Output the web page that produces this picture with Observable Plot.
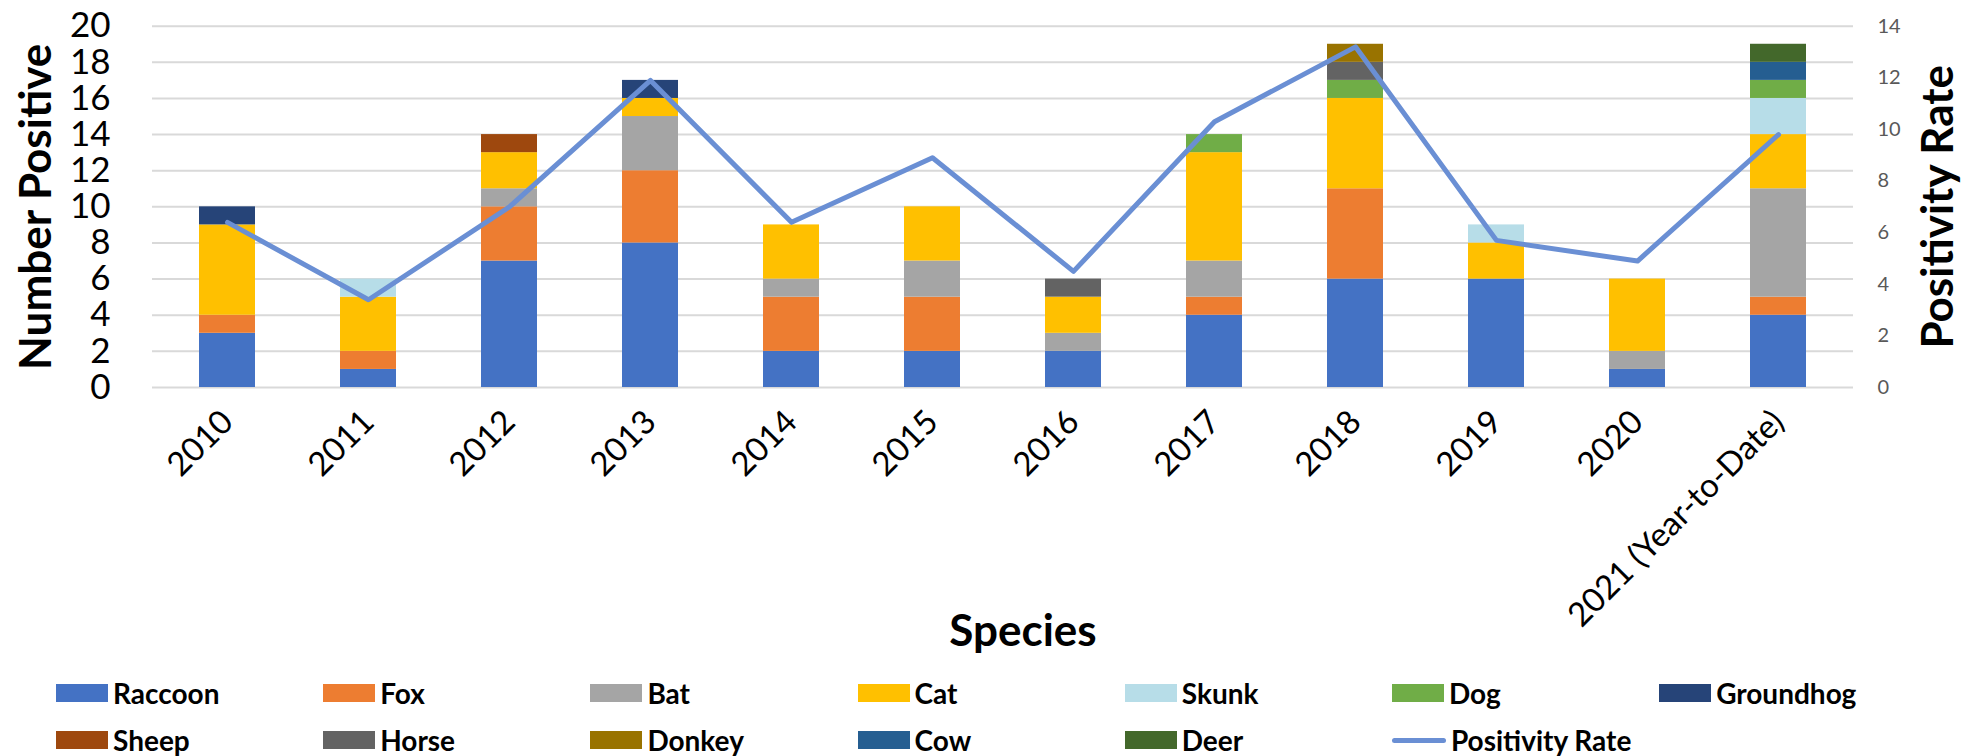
<!DOCTYPE html>
<html>
<head>
<meta charset="utf-8">
<script src="https://cdn.jsdelivr.net/npm/d3@7"></script>
<script src="https://cdn.jsdelivr.net/npm/@observablehq/plot@0.6"></script>
<style>
  body { margin: 0; background: #fff; font-family: Lato, "Open Sans", sans-serif; }
  #chart svg { display: block; }
  #legend {
    width: 1977px; height: 91px; box-sizing: border-box;
    display: grid; grid-template-columns: repeat(7, 267.2px); grid-auto-rows: 47px;
    padding-left: 56px; padding-top: 4.5px;
  }
  .item { display: flex; align-items: center; font-weight: 700; font-size: 28px; line-height: 1; color: #000; white-space: nowrap; }
  .sw { width: 52px; height: 18px; margin-right: 5px; flex: none; }
  .ln { width: 54px; height: 5px; border-radius: 3px; margin-right: 5px; flex: none; }
</style>
</head>
<body>
<div id="chart"></div>
<div id="legend"></div>
<script>
// Categories
const years = ["2010", "2011", "2012", "2013", "2014", "2015", "2016", "2017", "2018", "2019", "2020", "2021 (Year-to-Date)"];
const species = ["Raccoon", "Fox", "Bat", "Cat", "Skunk", "Dog", "Groundhog", "Sheep", "Horse", "Donkey", "Cow", "Deer"];
const speciesColors = ["#4472C4", "#ED7D31", "#A5A5A5", "#FFC000", "#B7DDE8", "#70AD47", "#264478", "#9E480E", "#636363", "#997300", "#255E91", "#43682B"];

// Positive animals per species and year
const raccoon   = [3, 1, 7, 8, 2, 2, 2, 4, 6, 6, 1, 4];
const fox       = [1, 1, 3, 4, 3, 3, 0, 1, 5, 0, 0, 1];
const bat       = [0, 0, 1, 3, 1, 2, 1, 2, 0, 0, 1, 6];
const cat       = [5, 3, 2, 1, 3, 3, 2, 6, 5, 2, 4, 3];
const skunk     = [0, 1, 0, 0, 0, 0, 0, 0, 0, 1, 0, 2];
const dog       = [0, 0, 0, 0, 0, 0, 0, 1, 1, 0, 0, 1];
const groundhog = [1, 0, 0, 1, 0, 0, 0, 0, 0, 0, 0, 0];
const sheep     = [0, 0, 1, 0, 0, 0, 0, 0, 0, 0, 0, 0];
const horse     = [0, 0, 0, 0, 0, 0, 1, 0, 1, 0, 0, 0];
const donkey    = [0, 0, 0, 0, 0, 0, 0, 0, 1, 0, 0, 0];
const cow       = [0, 0, 0, 0, 0, 0, 0, 0, 0, 0, 0, 1];
const deer      = [0, 0, 0, 0, 0, 0, 0, 0, 0, 0, 0, 1];

// Positivity rate (right axis)
const positivityRate = [6.4, 3.4, 7.0, 11.9, 6.4, 8.9, 4.5, 10.3, 13.2, 5.7, 4.9, 9.8];
const rateColor = "#6A8FD4";

// Tick labels
const leftTicks = [0, 2, 4, 6, 8, 10, 12, 14, 16, 18, 20];
const rightTicks = [0, 2, 4, 6, 8, 10, 12, 14];

const countsBySpecies = [raccoon, fox, bat, cat, skunk, dog, groundhog, sheep, horse, donkey, cow, deer];
const rows = [];
years.forEach((year, i) => {
  countsBySpecies.forEach((arr, j) => {
    if (arr[i] > 0) rows.push({year, species: species[j], count: arr[i]});
  });
});
const rateRows = years.map((year, i) => ({year, rate: positivityRate[i]}));

// The right axis (0–14) shares the frame with the left axis (0–20)
const leftMax = d3.max(leftTicks);
const rightMax = d3.max(rightTicks);
const toLeft = v => v * leftMax / rightMax;

const chart = Plot.plot({
  width: 1977,
  height: 665,
  marginLeft: 152,
  marginRight: 124,
  marginTop: 25.7,
  marginBottom: 278,
  style: {fontFamily: "Lato, 'Open Sans', sans-serif", background: "#fff", color: "#000", overflow: "visible"},
  x: {domain: years, paddingInner: 0.6, paddingOuter: 0.3, label: null},
  y: {domain: [0, leftMax], label: null},
  color: {domain: species, range: speciesColors},
  marks: [
    Plot.gridY(leftTicks, {stroke: "#D9D9D9", strokeOpacity: 1, strokeWidth: 2}),
    Plot.barY(rows, {x: "year", y: "count", fill: "species"}),
    Plot.line(rateRows, {x: "year", y: d => toLeft(d.rate), stroke: rateColor, strokeWidth: 5, strokeLinejoin: "round", strokeLinecap: "round"}),
    Plot.axisY(leftTicks, {anchor: "left", tickSize: 0, tickPadding: 42, fontSize: 35, label: null}),
    Plot.text(rightTicks, {y: d => toLeft(d), text: d => String(d), frameAnchor: "right", textAnchor: "start", dx: 24, fontSize: 20, fill: "#595959"}),
    Plot.axisX({tickRotate: -45, tickSize: 0, tickPadding: 29, fontSize: 33, label: null}),
    Plot.text(["Number Positive"], {frameAnchor: "left", rotate: -90, dx: -102, textAnchor: "middle", lineAnchor: "bottom", fontSize: 44, fontWeight: "bold"}),
    Plot.text(["Positivity Rate"], {frameAnchor: "right", rotate: -90, dx: 99, textAnchor: "middle", lineAnchor: "bottom", fontSize: 44, fontWeight: "bold"}),
    Plot.text(["Species"], {frameAnchor: "bottom", dx: 20, dy: 258, textAnchor: "middle", lineAnchor: "bottom", fontSize: 44, fontWeight: "bold"})
  ]
});
document.getElementById("chart").appendChild(chart);

// Legend: species swatches followed by the positivity line
const legend = d3.select("#legend");
species.forEach((s, i) => {
  const item = legend.append("div").attr("class", "item");
  item.append("span").attr("class", "sw").style("background", speciesColors[i]);
  item.append("span").text(s);
});
const rateItem = legend.append("div").attr("class", "item");
rateItem.append("span").attr("class", "ln").style("background", rateColor);
rateItem.append("span").text("Positivity Rate");
</script>
</body>
</html>
